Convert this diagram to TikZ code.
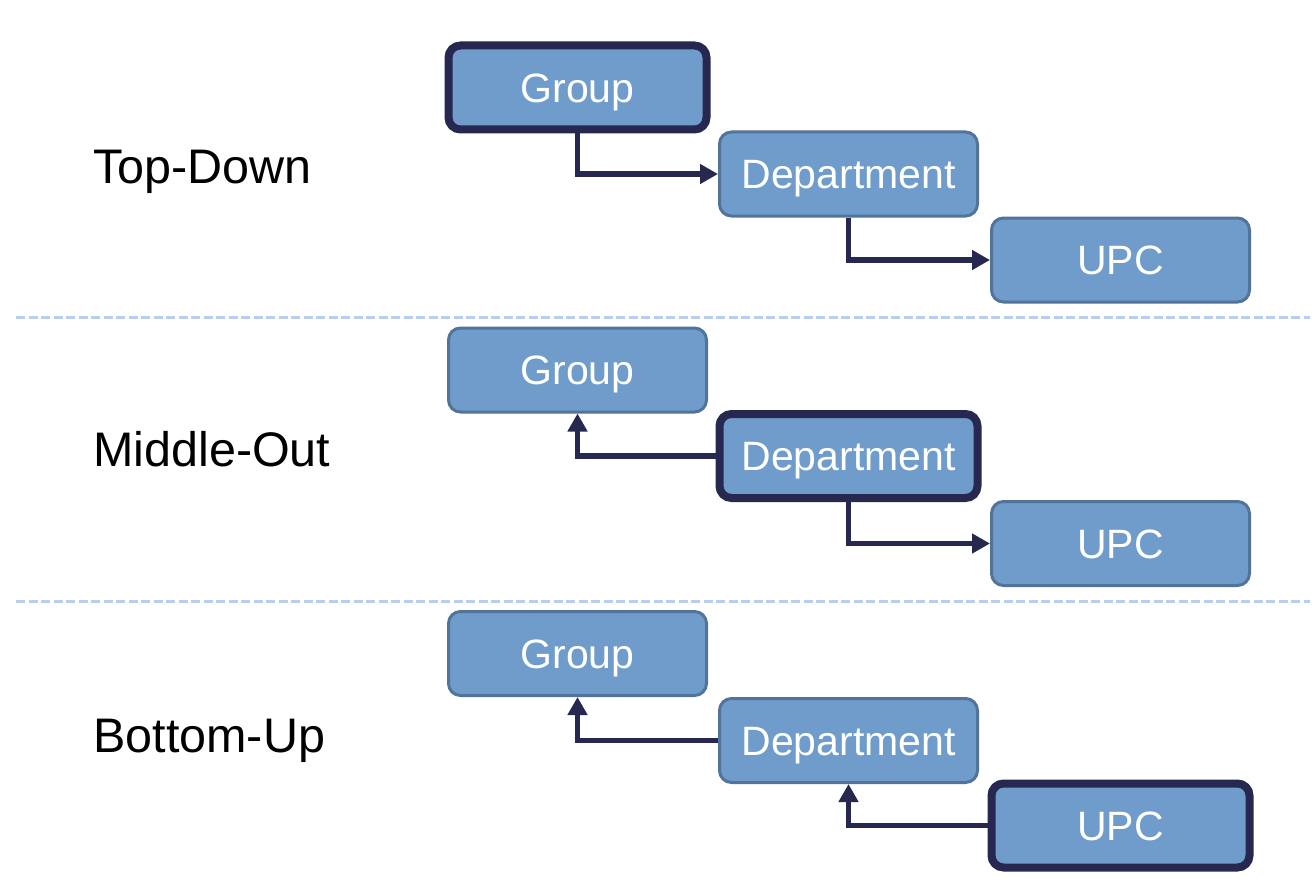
\documentclass[tikz,border=0pt]{standalone}
\usepackage{fontspec}
\setmainfont{Liberation Sans}
\usetikzlibrary{arrows.meta}
\definecolor{boxfill}{HTML}{6F9CCB}
\definecolor{boxline}{HTML}{52739A}
\definecolor{navy}{HTML}{262850}
\definecolor{dashblue}{HTML}{B8CDF2}
\tikzset{
  lvl/.style={draw=boxline, line width=3pt, fill=boxfill, rounded corners=12pt,
    minimum width=258pt, minimum height=84pt, inner sep=0pt,
    text=white, font=\fontsize{41}{49}\selectfont, text height=29.5pt, text depth=0pt},
  focus/.style={lvl, draw=navy, line width=8pt},
  conn/.style={draw=navy, line width=5.5pt, -{Triangle[length=18pt,width=19pt]}},
  sep/.style={draw=dashblue, line width=3pt, dash pattern=on 9pt off 3.5pt},
  approach/.style={anchor=base west, font=\fontsize{48.5}{58}\selectfont, text=black, inner sep=0pt}
}
\begin{document}
\begin{tikzpicture}[x=1pt,y=-1pt]
\useasboundingbox (0,0) rectangle (1316,896);
% Top-Down
\node[approach] (t1) at (93,183) {Top-Down};
\node[focus] (g1) at (577.5,87.5) {Group};
\node[lvl] (d1) at (848.5,174) {Department};
\node[lvl] (u1) at (1120.5,260) {UPC};
\draw[conn] (g1.south) |- (d1.west);
\draw[conn] (d1.south) |- (u1.west);
% separator
\coordinate (s1a) at (16,317);
\coordinate (s1b) at (1310,317);
\draw[sep] (s1a) -- (s1b);
% Middle-Out
\node[approach] (t2) at (93,466) {Middle-Out};
\node[lvl] (g2) at (577.5,370) {Group};
\node[focus] (d2) at (848.5,456) {Department};
\node[lvl] (u2) at (1120.5,543.5) {UPC};
\draw[conn] (d2.west) -| (g2.south);
\draw[conn] (d2.south) |- (u2.west);
% separator
\coordinate (s2a) at (16,601);
\coordinate (s2b) at (1310,601);
\draw[sep] (s2a) -- (s2b);
% Bottom-Up
\node[approach] (t3) at (93,752) {Bottom-Up};
\node[lvl] (g3) at (577.5,653.5) {Group};
\node[lvl] (d3) at (848.5,740.5) {Department};
\node[focus] (u3) at (1120.5,825.5) {UPC};
\draw[conn] (d3.west) -| (g3.south);
\draw[conn] (u3.west) -| (d3.south);
\end{tikzpicture}
\end{document}
